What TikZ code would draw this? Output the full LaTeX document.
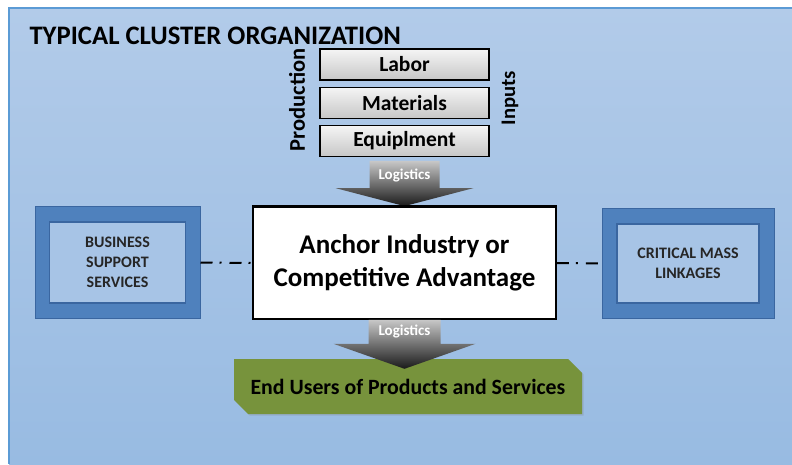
\documentclass[tikz,border=0pt]{standalone}
\usepackage{fontspec}
\setmainfont{Carlito}
\usepackage{tikz}
\usetikzlibrary{positioning,calc,shapes.misc,shadows}
\definecolor{PanelTop}    {RGB}{178, 203, 233}
\definecolor{PanelBottom} {RGB}{152, 187, 226}
\definecolor{PanelEdge}   {RGB}{ 91, 155, 213}
\definecolor{SupportDark} {RGB}{ 79, 129, 189}
\definecolor{SupportEdge} {RGB}{ 58, 102, 160}
\definecolor{SupportLight}{RGB}{167, 196, 230}
\definecolor{EndGreen}    {RGB}{119, 147,  60}
\tikzset{
  inputbox/.style={draw=black, line width=1.2pt, top color=black!4,
    bottom color=black!22, minimum width=169pt, minimum height=31pt,
    font=\fontsize{21.5}{22}\selectfont\bfseries},
  outerbox/.style={fill=SupportDark, draw=SupportEdge, line width=1pt},
  innerbox/.style={fill=SupportLight, draw=SupportEdge, line width=1.2pt,
    align=center, text=black!85,
    font=\fontsize{16}{20}\selectfont\bfseries},
  linkline/.style={line width=2pt,
    dash pattern=on 12pt off 7pt on 2pt off 8pt},
  loglabel/.style={text=white, font=\fontsize{15}{15}\selectfont\bfseries},
}
% block arrow: top, tip, shaft half width, head half width, head length
\newcommand{\LogisticsArrow}[5]{%
  \shade[top color=black!22, bottom color=black!90]
    let \p1=#1, \p2=#2 in
    (\x1-#3,\y1) -- (\x1+#3,\y1) -- (\x1+#3,\y2+#5) -- (\x1+#4,\y2+#5)
    -- (\x1,\y2) -- (\x1-#4,\y2+#5) -- (\x1-#3,\y2+#5) -- cycle;
}
\begin{document}
\begin{tikzpicture}[x=1pt,y=1pt]
      \useasboundingbox (0,0) rectangle (792,464);
      % Panel
      \shade[top color=PanelTop, bottom color=PanelBottom]
        (9,0) rectangle (792,456);
      \draw[PanelEdge, line width=1.5pt] (9,0) -- (9,456) -- (792,456);
      % Title
      \node[anchor=base west, font=\fontsize{26.7}{28}\selectfont\bfseries]
        (title) at (26,419) {TYPICAL CLUSTER ORGANIZATION};
      % Production inputs
      \node[inputbox] (labor) at (404.5,399.5) {Labor};
      \node[inputbox, below=6pt of labor] (materials) {Materials};
      \node[inputbox, below=6pt of materials] (equipment) {Equiplment};
      \node[rotate=90, font=\fontsize{22.5}{24}\selectfont\bfseries]
        (production) at (297,364) {Production};
      \node[rotate=90, font=\fontsize{20.7}{22}\selectfont\bfseries]
        (inputs) at (510,366) {Inputs};
      % Anchor industry
      \node[draw=black, fill=white, line width=1.8pt, minimum width=303pt,
            minimum height=112pt, align=center,
            font=\fontsize{27}{33}\selectfont\bfseries]
        (anchor) at (404.5,201) {Anchor Industry or\\Competitive Advantage};
      \LogisticsArrow{($(equipment.south)+(0,-4pt)$)}{(anchor.north)}%
        {35pt}{69pt}{18pt}
      \draw[black, line width=1.8pt]
        (anchor.north west) -- (anchor.north east);
      \node[loglabel] (logtop) at ($(equipment.south)+(0,-18pt)$) {Logistics};
      % Side boxes
      \node[outerbox, minimum width=165pt, minimum height=111pt]
        (business) at (117.5,201.5) {};
      \node[innerbox, minimum width=136pt, minimum height=81pt]
        (businessin) at (business.center) {BUSINESS\\SUPPORT\\SERVICES};
      \node[outerbox, minimum width=172pt, minimum height=109pt]
        (critical) at (688,200.5) {};
      \node[innerbox, minimum width=142pt, minimum height=79pt]
        (criticalin) at (critical.center) {CRITICAL MASS\\LINKAGES};
      \draw[linkline] (business.east) -- (anchor.west);
      \draw[linkline] (anchor.east) -- (critical.west);
      % End users
      \node[chamfered rectangle,
            chamfered rectangle corners={north east,south west},
            chamfered rectangle xsep=7pt, chamfered rectangle ysep=7pt,
            fill=EndGreen,
            drop shadow={opacity=0.25, shadow xshift=1.5pt, shadow yshift=-1.5pt},
            minimum width=348pt, minimum height=55pt,
            font=\fontsize{21.8}{22}\selectfont\bfseries]
        (enduser) at (408,77.5) {End Users of Products and Services};
      \LogisticsArrow{(anchor.south)}{($(enduser.north)+(0,-10pt)$)}%
        {36pt}{71pt}{25pt}
      \node[loglabel] (logbottom) at ($(anchor.south)+(0,-12pt)$) {Logistics};
\end{tikzpicture}
\end{document}
